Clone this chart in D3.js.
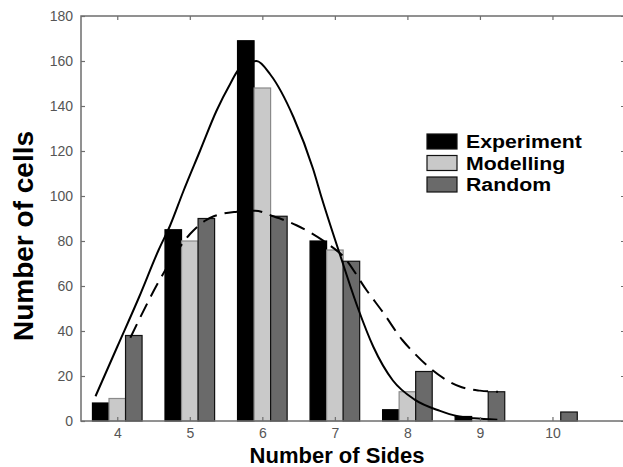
<!DOCTYPE html>
<html>
<head>
<meta charset="utf-8">
<script src="https://cdn.jsdelivr.net/npm/d3@7"></script>
<style>
  html, body { margin: 0; padding: 0; background: #fff; }
  svg { display: block; font-family: Arial, "Liberation Sans", sans-serif; }
</style>
</head>
<body>
<div id="chart"></div>
<script>
// Number of sides per cell
const sides = [4, 5, 6, 7, 8, 9, 10];
const experiment = [8, 85, 169, 80, 5, 2, 0];
const modelling = [10, 80, 148, 76, 13, 0, 0];
const random = [38, 90, 91, 71, 22, 13, 4];

// fitted curves
const solidFitX = [3.70, 4.00, 4.30, 4.57, 4.73, 4.91, 5.14, 5.37, 5.56, 5.67, 5.92, 6.11, 6.43, 6.70, 6.82, 7.07, 7.32, 7.53, 7.80, 8.10, 8.45, 8.68, 8.92, 9.24];
const solidFitY = [11, 33, 55, 76, 87, 102, 120, 138, 150, 156, 160, 154, 135, 112, 99, 74, 50, 33, 18, 9.5, 4.5, 2.2, 1.2, 0.6];
const dashedFitX = [4.18, 4.68, 5.00, 5.21, 5.33, 5.65, 5.90, 6.15, 6.47, 6.89, 7.12, 7.44, 7.67, 7.93, 8.10, 8.33, 8.75, 9.00, 9.25];
const dashedFitY = [37, 68, 83, 89, 91, 93, 93.5, 91, 87, 79, 73, 58, 48, 36, 30, 23, 15, 13.5, 13];

const yTicks = [0, 20, 40, 60, 80, 100, 120, 140, 160, 180];

const seriesNames = ['Experiment', 'Modelling', 'Random'];
const seriesData = [experiment, modelling, random];

const width = 623, height = 467;
const margin = { top: 16, right: -2, bottom: 46, left: 81 };
const innerW = width - margin.left - margin.right;
const innerH = height - margin.top - margin.bottom;

const svg = d3.select('#chart').append('svg')
    .attr('width', width)
    .attr('height', height);

const g = svg.append('g')
    .attr('transform', `translate(${margin.left},${margin.top})`);

const x = d3.scaleLinear().domain([3.5, 11]).range([0, innerW]);
const y = d3.scaleLinear().domain([0, 180]).range([innerH, 0]);

const color = d3.scaleOrdinal()
    .domain(seriesNames)
    .range(['#000000', '#c9c9c9', '#6a6a6a']);
const strokeColor = d3.scaleOrdinal()
    .domain(seriesNames)
    .range(['#000000', '#8a8a8a', '#111111']);

// bars - three per group, middle one centred on the tick
const barW = 0.228;
seriesNames.forEach((name, si) => {
    const off = (si - 1) * barW;
    g.selectAll('.bar-' + si)
        .data(sides.map((s, i) => ({ s, v: seriesData[si][i] })).filter(d => d.v > 0))
        .enter()
        .append('rect')
        .attr('x', d => x(d.s + off - barW / 2))
        .attr('y', d => y(d.v))
        .attr('width', x(barW) - x(0))
        .attr('height', d => y(0) - y(d.v))
        .attr('fill', color(name))
        .attr('stroke', strokeColor(name))
        .attr('stroke-width', 1.2);
});

// fitted curves
const line = d3.line()
    .x(d => x(d[0]))
    .y(d => y(d[1]))
    .curve(d3.curveMonotoneX);

g.append('path')
    .datum(d3.zip(solidFitX, solidFitY))
    .attr('d', line)
    .attr('fill', 'none')
    .attr('stroke', '#000')
    .attr('stroke-width', 2);

g.append('path')
    .datum(d3.zip(dashedFitX, dashedFitY))
    .attr('d', line)
    .attr('fill', 'none')
    .attr('stroke', '#000')
    .attr('stroke-width', 2)
    .attr('stroke-dasharray', '15,8');

// axes box, MATLAB style inward ticks
const axisColor = '#6e6e6e';
g.append('rect')
    .attr('x', 0).attr('y', 0)
    .attr('width', innerW).attr('height', innerH)
    .attr('fill', 'none')
    .attr('stroke', axisColor)
    .attr('stroke-width', 1.5);

const xAxis = g.append('g')
    .attr('transform', `translate(0,${innerH})`)
    .call(d3.axisBottom(x).tickValues(sides).tickSize(-4).tickPadding(7).tickFormat(d3.format('d')));
const xTop = g.append('g')
    .call(d3.axisTop(x).tickValues(sides).tickSize(-4).tickFormat(''));
const yAxis = g.append('g')
    .call(d3.axisLeft(y).tickValues(yTicks).tickSize(-4).tickPadding(8));
const yRight = g.append('g')
    .attr('transform', `translate(${innerW},0)`)
    .call(d3.axisRight(y).tickValues(yTicks).tickSize(-4).tickFormat(''));

[xAxis, xTop, yAxis, yRight].forEach(a => {
    a.select('.domain').remove();
    a.selectAll('line').attr('stroke', axisColor).attr('stroke-width', 1.2);
    a.selectAll('text')
        .attr('fill', '#555')
        .style('font-size', '14px')
        .style('font-family', 'Arial, "Liberation Sans", sans-serif');
});

// axis titles
svg.append('text')
    .attr('x', 337)
    .attr('y', 463)
    .attr('text-anchor', 'middle')
    .style('font-size', '22px')
    .style('font-weight', 'bold')
    .text('Number of Sides');

svg.append('text')
    .attr('transform', 'translate(33,236) rotate(-90)')
    .attr('text-anchor', 'middle')
    .style('font-size', '28px')
    .style('font-weight', 'bold')
    .text('Number of cells');

// legend - tightly stacked rows as in the original
const legend = svg.append('g')
    .attr('transform', 'translate(427,134)');

seriesNames.forEach((name, i) => {
    const row = legend.append('g')
        .attr('transform', `translate(0, ${i * 21.5})`);
    row.append('rect')
        .attr('width', 30)
        .attr('height', 15)
        .attr('fill', color(name))
        .attr('stroke', '#111')
        .attr('stroke-width', 1.2);
    row.append('text')
        .attr('transform', 'translate(39,14) scale(1.15,1)')
        .style('font-size', '18.5px')
        .style('font-weight', 'bold')
        .text(name);
});
</script>
</body>
</html>
